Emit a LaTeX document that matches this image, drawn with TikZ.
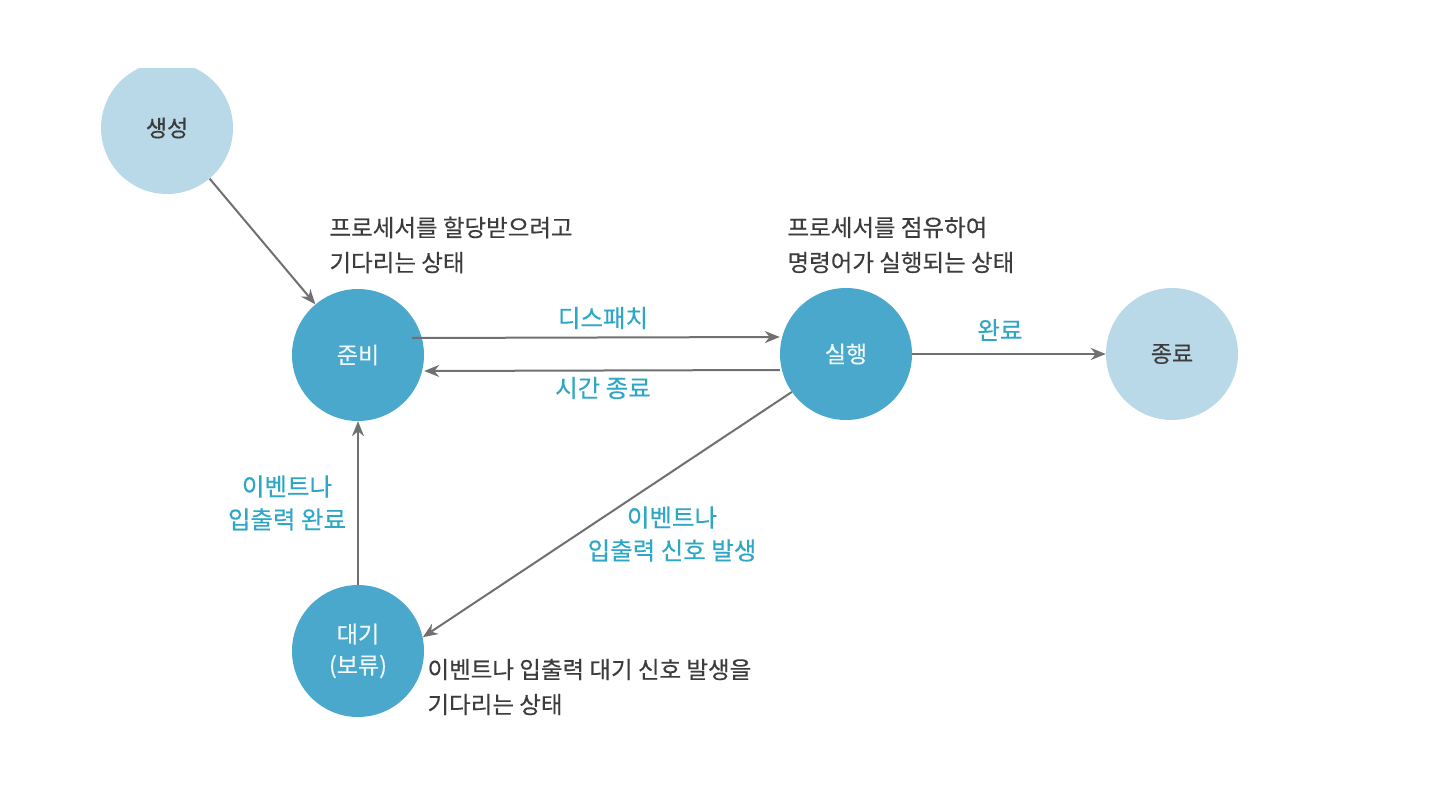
\documentclass[tikz,border=0pt]{standalone}
\usepackage{fontspec}
\setmainfont{Noto Sans CJK KR}[FakeBold=0.35]
\usetikzlibrary{arrows.meta}
\definecolor{statedark}{HTML}{4AA8CC}
\definecolor{statelight}{HTML}{BAD9E8}
\definecolor{labelteal}{HTML}{2EA7C6}
\definecolor{arrowgray}{HTML}{707070}
\definecolor{textgray}{HTML}{3C3C3C}

\begin{document}
\begin{tikzpicture}[x=1pt, y=-1pt,
        state/.style={circle, minimum size=132pt, inner sep=0pt, align=center, font=\fontsize{23}{31}\selectfont},
        darkstate/.style={state, fill=statedark, text=white!92!statedark},
        lightstate/.style={state, fill=statelight, text=textgray},
        note/.style={align=left, anchor=west, text=textgray, font=\fontsize{23.5}{35}\selectfont},
        tag/.style={align=center, text=labelteal, font=\fontsize{24.5}{33}\selectfont},
        arr/.style={-{Stealth[length=15pt, width=12pt]}, arrowgray, line width=2pt}]
      \useasboundingbox (0,0) rectangle (1444,790);

      \begin{scope}
        \clip (0,68) rectangle (1444,790);
        \node[lightstate] (gen) at (167,128) {생성};
      \end{scope}
      \node[darkstate] (ready) at (358,355) {준비};
      \node[darkstate] (run) at (846,354) {실행};
      \node[lightstate] (done) at (1172,354) {종료};
      \node[darkstate] (wait) at (358,651) {대기\\(보류)};

      \node[note] (readynote) at (326,245) {프로세서를 할당받으려고\\기다리는 상태};
      \node[note] (runnote) at (784,245) {프로세서를 점유하여\\명령어가 실행되는 상태};
      \node[note] (waitnote) at (424,687) {이벤트나 입출력 대기 신호 발생을\\기다리는 상태};

      \draw[arr] (gen) -- (ready);
      \draw[arr] ([xshift=-12pt, yshift=17pt]ready.east) -- ([yshift=17pt]run.west);
      \draw[arr] ([yshift=-16pt]run.west) -- ([yshift=-16pt]ready.east);
      \draw[arr] (run.east) -- (done.west);
      \draw[arr] (wait.north) -- (ready.south);
      \draw[arr] (run.215) -- (wait.12);

      \node[tag] (dispatch) at (603,318) {디스패치};
      \node[tag] (timeout) at (603,388) {시간 종료};
      \node[tag] (finish) at (1000,330) {완료};
      \node[tag] (iodone) at (287,503) {이벤트나\\입출력 완료};
      \node[tag] (iowait) at (672,534) {이벤트나\\입출력 신호 발생};
    \end{tikzpicture}
\end{document}
